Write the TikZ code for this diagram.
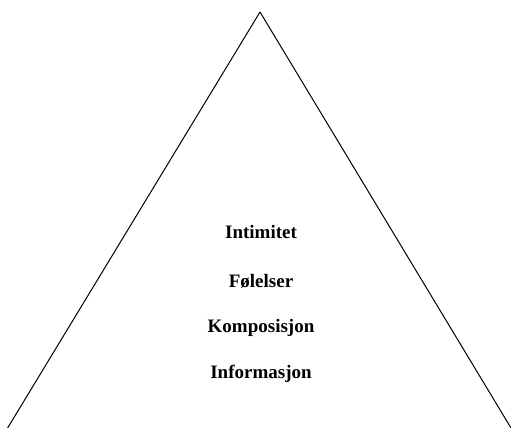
\documentclass[tikz,border=0pt]{standalone}
\usepackage{fontspec}
\setmainfont{Liberation Serif}
\usetikzlibrary{positioning}

\begin{document}
\begin{tikzpicture}[x=1pt, y=-1pt]
\tikzstyle{level} = [font=\fontsize{19}{22}\selectfont\bfseries, inner sep=0pt, anchor=base]
\tikzstyle{side} = [draw=black, line width=1pt]
\useasboundingbox (0, 0) rectangle (511, 428);
\coordinate (top) at (260, 12);
\coordinate (left) at (7, 429);
\coordinate (right) at (511, 428);
\draw[side] (top) -- (left);
\draw[side] (top) -- (right);
\node[level] (intimitet) at (261, 238) {Intimitet};
\node[level] (folelser) at (261, 287) {Følelser};
\node[level] (komposisjon) at (261, 332) {Komposisjon};
\node[level] (informasjon) at (261, 378) {Informasjon};
\end{tikzpicture}
\end{document}
